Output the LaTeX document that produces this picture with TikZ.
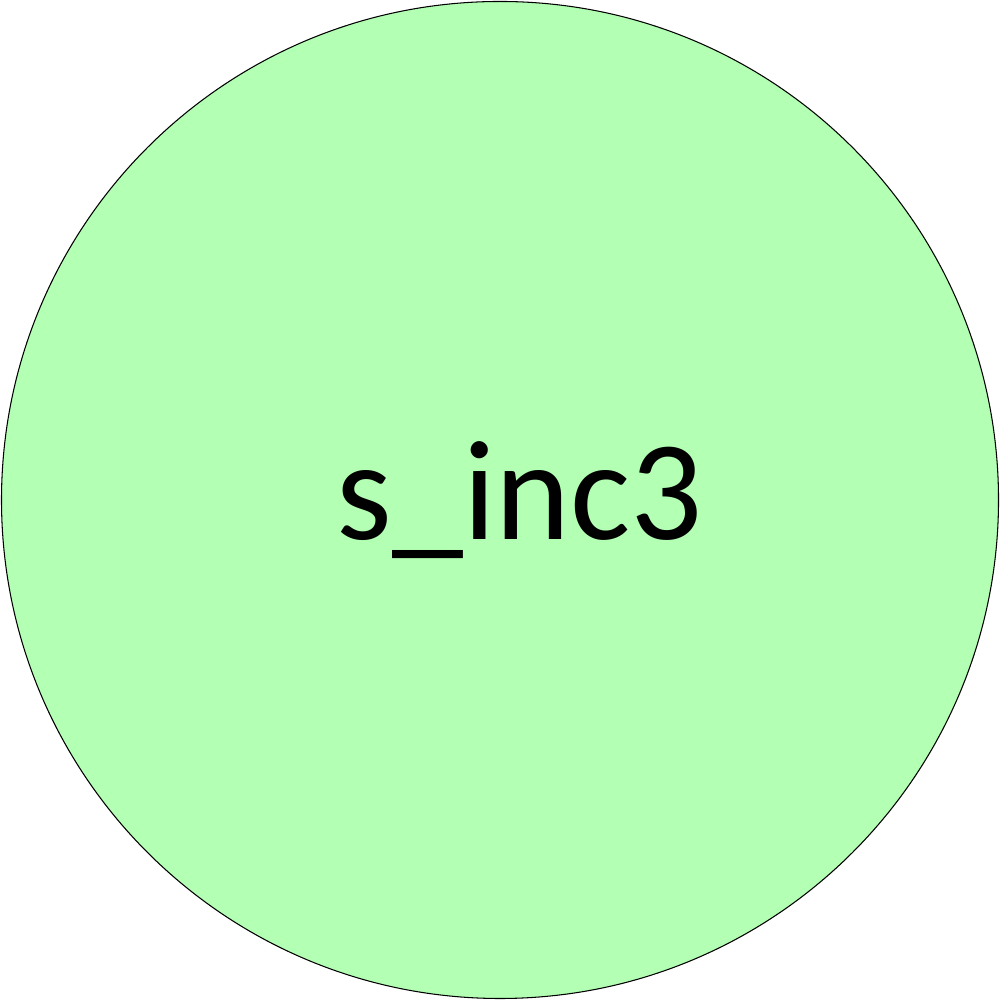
\documentclass[tikz,border=0pt]{standalone}
\usepackage{fontspec}
\setmainfont{Carlito}
\definecolor{nodegreen}{RGB}{179,255,179}
\begin{document}
\begin{tikzpicture}[
  statecircle/.style={circle, draw=black, line width=0.3pt, fill=nodegreen, minimum size=9.97cm, inner sep=0pt},
  statelabel/.style={font=\fontsize{40.5}{48}\selectfont, inner sep=0pt}
]
\useasboundingbox (0,0) rectangle (10,10);
\node[statecircle] (c) at (5,5) {};
\node[statelabel, anchor=base] (t) at (5.2,4.6) {s\_inc3};
\end{tikzpicture}
\end{document}
